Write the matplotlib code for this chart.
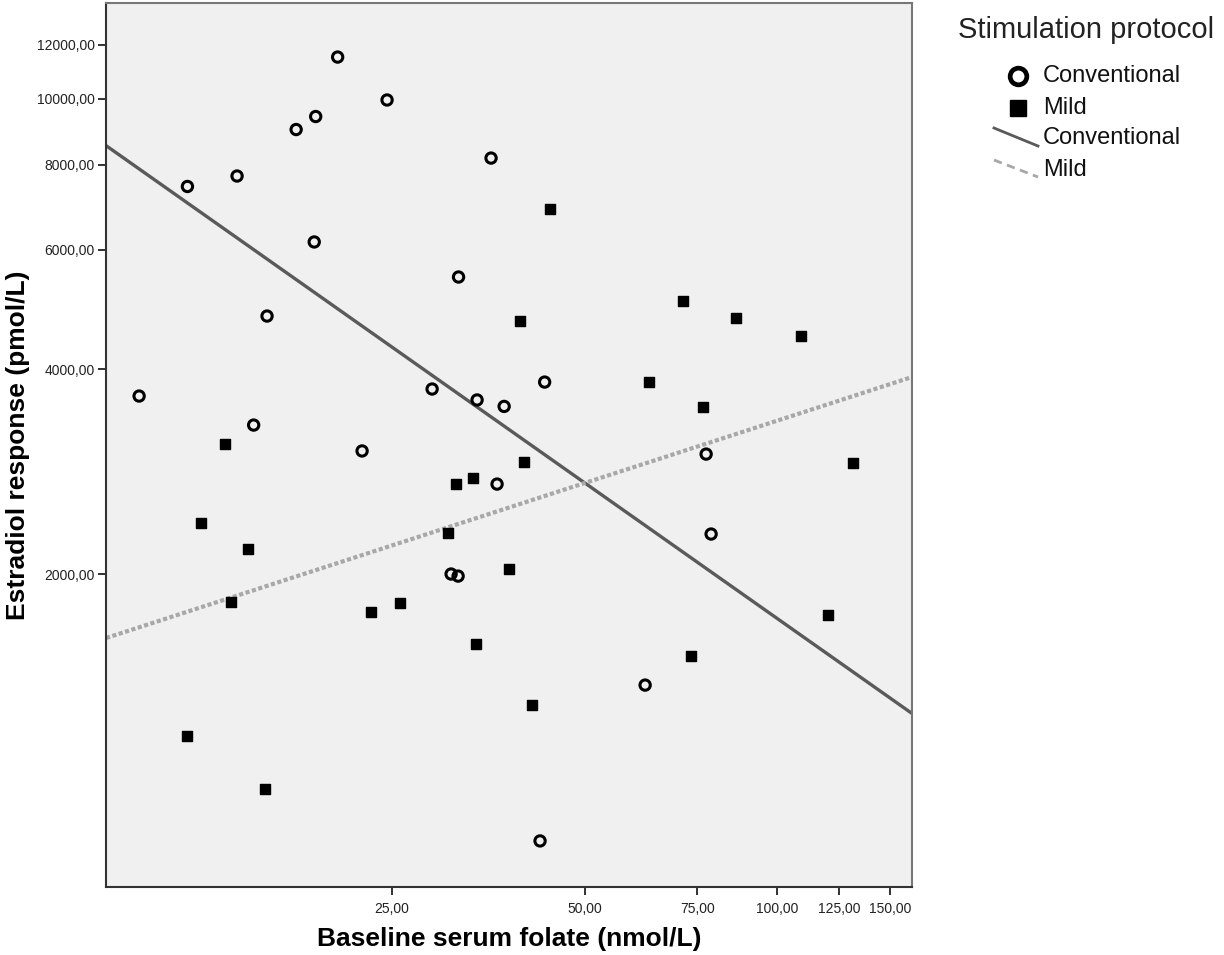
import numpy as np
import matplotlib
matplotlib.use("Agg")
import matplotlib.pyplot as plt
from matplotlib.ticker import FixedLocator, FuncFormatter, NullLocator
from matplotlib.lines import Line2D

# folate (nmol/L) and estradiol (pmol/L)
conv_folate = [10.06, 11.97, 14.31, 17.70, 18.99, 20.55, 24.55, 18.89, 15.94, 15.19,
               22.44, 28.87, 31.75, 35.69, 33.94, 37.41, 36.47, 43.28, 30.91, 31.70,
               77.38, 78.78, 62.13, 42.57]
conv_e2 = [3654, 7430, 7698, 9010, 9416, 11516, 9958, 6157, 4791, 3312,
           3034, 3742, 5468, 8180, 3606, 3528, 2712, 3831, 2000, 1986,
           3002, 2290, 1373, 810]

mild_folate = [44.13, 71.23, 39.62, 86.17, 108.9, 63.03, 76.54, 131.3, 13.71, 12.57,
               14.89, 14.01, 31.47, 33.46, 40.20, 30.58, 38.08, 23.18, 25.73, 33.82,
               73.32, 120.0, 41.37, 11.95, 15.83]
mild_e2 = [6884, 5040, 4719, 4758, 4477, 3831, 3520, 2913, 3106, 2377,
           2177, 1819, 2712, 2768, 2921, 2298, 2034, 1759, 1813, 1578,
           1515, 1741, 1284, 1155, 966]

x_ticks = [25, 50, 75, 100, 125, 150]
y_ticks = [2000, 4000, 6000, 8000, 10000, 12000]

fig = plt.figure(figsize=(12.24, 9.55), dpi=100)
ax = fig.add_axes([106 / 1224, 1 - 887 / 955, (912 - 106) / 1224, (887 - 3) / 955])
ax.set_facecolor("#f0f0f0")
ax.set_xscale("log")
ax.set_yscale("log")
ax.set_xlim(8.93, 162.3)
ax.set_ylim(693, 13830)

# fit lines in log space
xx = np.array(ax.get_xlim())
for fx, fy, style in [(conv_folate, conv_e2, dict(color="#5a5a5a", lw=2.4, ls="-")),
                      (mild_folate, mild_e2, dict(color="#a8a8a8", lw=3, ls=(0, (1, 0.6))))]:
    k, b = np.polyfit(np.log10(fx), np.log10(fy), 1)
    ax.plot(xx, 10 ** (b + k * np.log10(xx)), zorder=2, **style)

ax.scatter(conv_folate, conv_e2, s=55, facecolors="none", edgecolors="black",
           linewidths=2.2, marker="o", zorder=3)
ax.scatter(mild_folate, mild_e2, s=60, color="black", marker="s", zorder=3)

fmt = FuncFormatter(lambda v, p: f"{v:.2f}".replace(".", ","))
ax.xaxis.set_major_locator(FixedLocator(x_ticks))
ax.yaxis.set_major_locator(FixedLocator(y_ticks))
ax.xaxis.set_minor_locator(NullLocator())
ax.yaxis.set_minor_locator(NullLocator())
ax.xaxis.set_major_formatter(fmt)
ax.yaxis.set_major_formatter(fmt)
ax.tick_params(length=6, width=1.3, color="#222222", labelsize=10, pad=2)
ax.tick_params(axis="x", pad=5)
for lab in ax.get_xticklabels() + ax.get_yticklabels():
    lab.set_family("Liberation Sans")
    lab.set_color("#222222")
for sp in ax.spines.values():
    sp.set_linewidth(1.5)
    sp.set_color("#333333")
ax.spines["top"].set_color("#777777")
ax.spines["right"].set_color("#777777")

ax.set_xlabel("Baseline serum folate (nmol/L)", family="Liberation Sans",
              fontsize=19, fontweight="bold", labelpad=8)
ax.set_ylabel("Estradiol response (pmol/L)", family="Liberation Sans",
              fontsize=19, fontweight="bold", labelpad=5)

# legend drawn by hand, SPSS style
def fx_(px):
    return px / 1224

def fy_(py):
    return 1 - py / 955

fig.text(fx_(958), fy_(30), "Stimulation protocol", family="Liberation Sans",
         fontsize=21, va="center", ha="left", color="#222222")
labels = ["Conventional", "Mild", "Conventional", "Mild"]
rows = [76, 108, 138, 170]
for lab, r in zip(labels, rows):
    fig.text(fx_(1043), fy_(r), lab, family="Liberation Sans", fontsize=17,
             va="center", ha="left", color="#111111")
fig.add_artist(Line2D([fx_(1018)], [fy_(76)], marker="o", markersize=12,
                      markerfacecolor="none", markeredgecolor="black",
                      markeredgewidth=3.4, transform=fig.transFigure))
fig.add_artist(Line2D([fx_(1018)], [fy_(108)], marker="s", markersize=11.5,
                      color="black", transform=fig.transFigure))
fig.add_artist(Line2D([fx_(994), fx_(1038)], [fy_(128), fy_(146)], color="#5a5a5a",
                      lw=2, transform=fig.transFigure))
fig.add_artist(Line2D([fx_(994), fx_(1038)], [fy_(160), fy_(177)], color="#a8a8a8",
                      lw=2, ls=(0, (3, 2)), transform=fig.transFigure))

fig.savefig("out.png", dpi=100)
